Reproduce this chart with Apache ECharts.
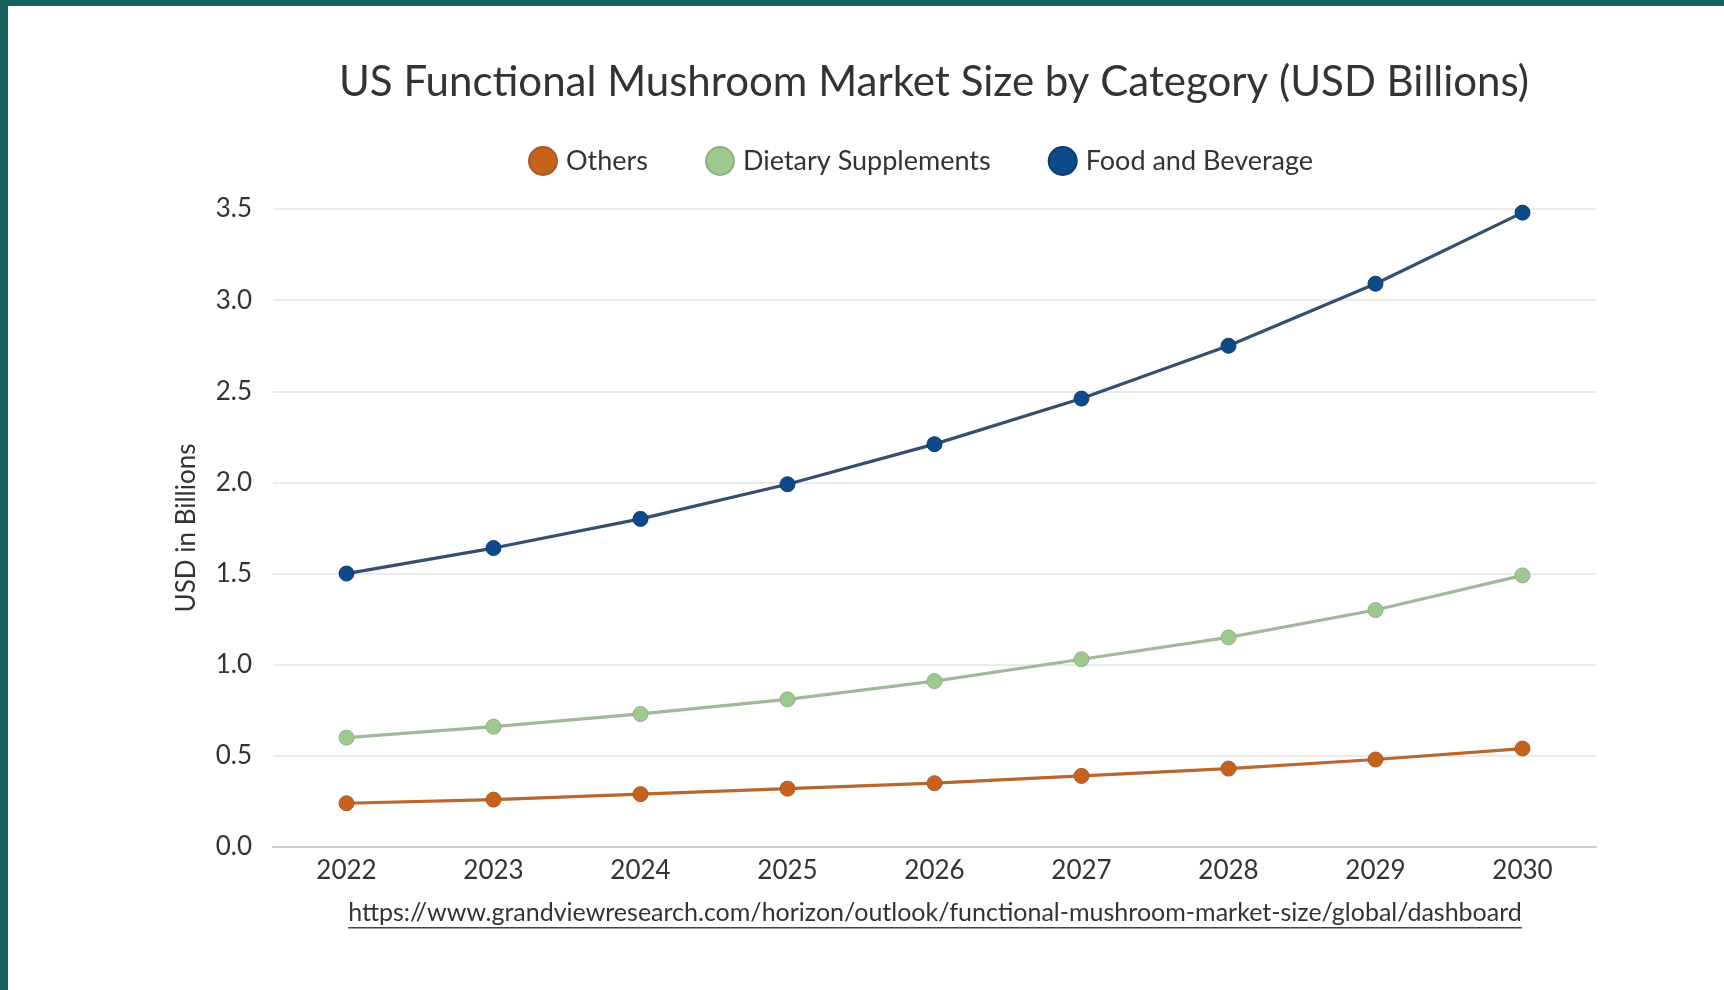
<!DOCTYPE html>
<html>
<head>
<meta charset="utf-8">
<style>
  html, body { margin: 0; padding: 0; background: #ffffff; }
  #wrap { position: absolute; left: 0; top: 0; width: 1724px; height: 990px; box-sizing: border-box;
          border-top: 6px solid #13625c; border-left: 8px solid #13625c; background: #fff; }
  #chart { position: absolute; left: -8px; top: -6px; width: 1724px; height: 990px; }
</style>
<script src="https://cdn.jsdelivr.net/npm/echarts@6/dist/echarts.min.js"></script>
</head>
<body>
<div id="wrap"><div id="chart"></div></div>
<script>
const categories = ['2022', '2023', '2024', '2025', '2026', '2027', '2028', '2029', '2030'];
const others = [0.24, 0.26, 0.29, 0.32, 0.35, 0.39, 0.43, 0.48, 0.54];
const dietarySupplements = [0.60, 0.66, 0.73, 0.81, 0.91, 1.03, 1.15, 1.30, 1.49];
const foodAndBeverage = [1.50, 1.64, 1.80, 1.99, 2.21, 2.46, 2.75, 3.09, 3.48];
const yTicks = { min: 0, max: 3.5, interval: 0.5 };
const titleText = 'US Functional Mushroom Market Size by Category (USD Billions)';
const sourceText = 'https://www.grandviewresearch.com/horizon/outlook/functional-mushroom-market-size/global/dashboard';

const FONT = 'Lato, "Noto Sans", sans-serif';
const chart = echarts.init(document.getElementById('chart'), null, { renderer: 'canvas' });

// measure source text for its underline
const cv = document.createElement('canvas').getContext('2d');
cv.font = '25px Lato';
const srcW = cv.measureText(sourceText).width;
const srcCenter = 935;

function series(name, data, lineColor, markColor, borderColor) {
  return {
    name: name, type: 'line', data: data, smooth: false,
    symbol: 'circle', symbolSize: 15, showSymbol: true,
    lineStyle: { color: lineColor, width: 3.2 },
    itemStyle: { color: markColor, borderColor: borderColor, borderWidth: 1 },
    emphasis: { disabled: true }
  };
}

chart.setOption({
  backgroundColor: 'transparent',
  animation: false,
  title: {
    text: titleText, left: 929, top: 56, textAlign: 'center',
    textStyle: { fontFamily: FONT, fontSize: 42, fontWeight: 'normal', color: '#333333' }
  },
  legend: {
    data: ['Others', 'Dietary Supplements', 'Food and Beverage'],
    left: 523, top: 141, icon: 'circle', itemWidth: 28, itemHeight: 28, itemGap: 57,
    textStyle: { fontFamily: FONT, fontSize: 27, color: '#333333', padding: [0, 0, 0, 4] }
  },
  grid: { left: 273, right: 128, top: 209, bottom: 143, containLabel: false },
  xAxis: {
    type: 'category', data: categories, boundaryGap: true,
    axisLine: { show: true, lineStyle: { color: '#cfcfcf', width: 2 } },
    axisTick: { show: false },
    axisLabel: { fontFamily: FONT, fontSize: 26, color: '#333333', margin: 11 }
  },
  yAxis: {
    type: 'value', min: yTicks.min, max: yTicks.max, interval: yTicks.interval,
    name: 'USD in Billions', nameLocation: 'middle', nameGap: 73, nameRotate: 90,
    nameTextStyle: { fontFamily: FONT, fontSize: 26, color: '#333333' },
    axisLine: { show: false }, axisTick: { show: false },
    splitLine: { lineStyle: { color: '#ebebeb', width: 2 } },
    axisLabel: { fontFamily: FONT, fontSize: 26, color: '#333333', margin: 21,
                 formatter: v => v.toFixed(1) }
  },
  graphic: [
    { type: 'text', left: srcCenter - srcW / 2, top: 900,
      style: { text: sourceText, fontFamily: FONT, fontSize: 25, fill: '#333333' } },
    { type: 'rect', left: srcCenter - srcW / 2, top: 927,
      shape: { width: srcW, height: 1.6 }, style: { fill: '#444444' } }
  ],
  series: [
    series('Others', others, '#b8672f', '#c7621d', '#a8592a'),
    series('Dietary Supplements', dietarySupplements, '#a2b89c', '#9dc98f', '#8fae8a'),
    series('Food and Beverage', foodAndBeverage, '#34506f', '#0e4a8a', '#0b3d72')
  ]
});
</script>
</body>
</html>
